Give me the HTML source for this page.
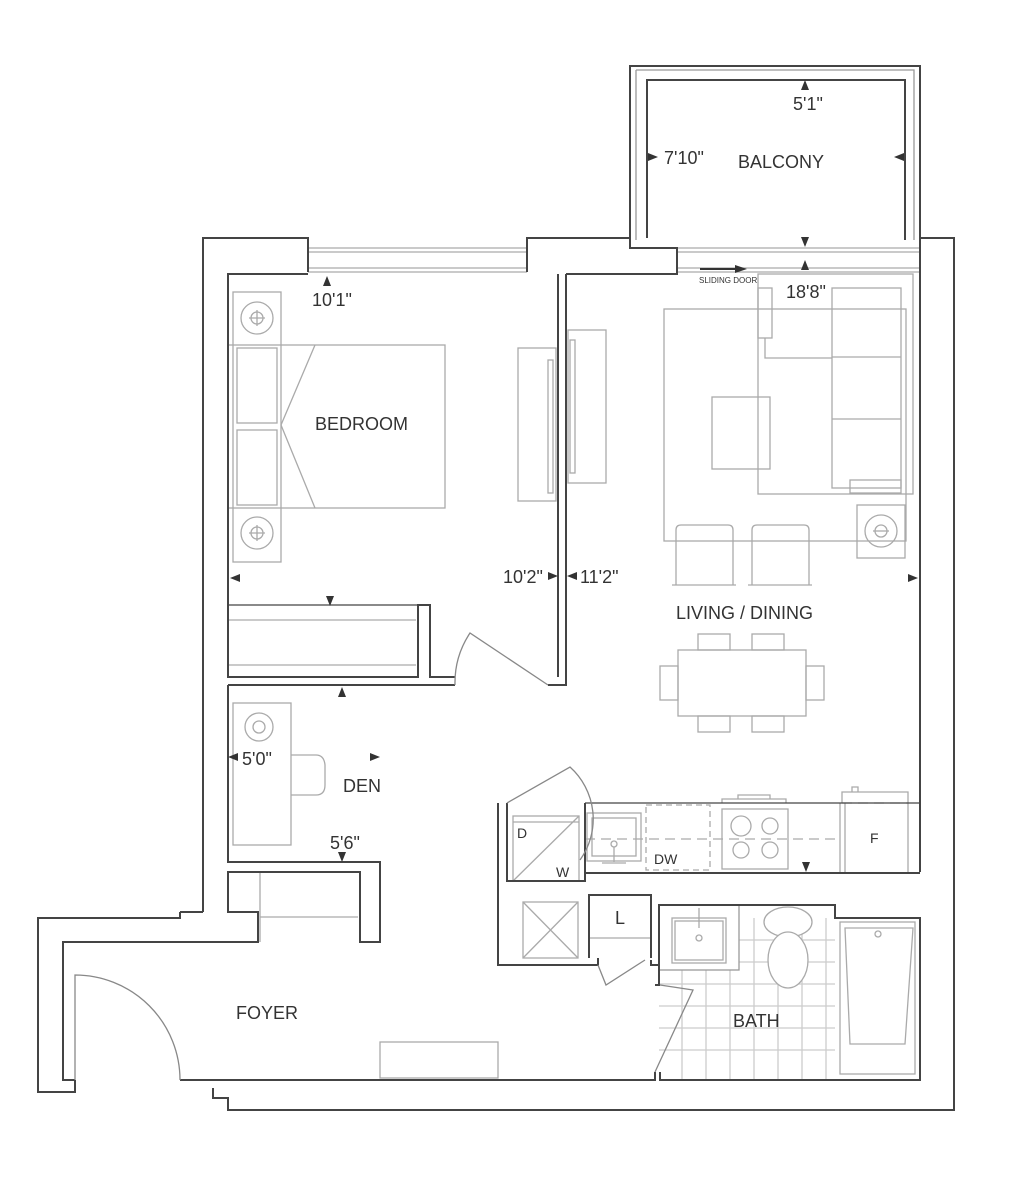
<!DOCTYPE html>
<html><head><meta charset="utf-8"><style>
html,body{margin:0;padding:0;background:#fff}
svg{display:block}
text{font-family:"Liberation Sans",sans-serif;fill:#333}
</style></head><body>
<svg width="1024" height="1179" viewBox="0 0 1024 1179" xmlns="http://www.w3.org/2000/svg">
<rect width="1024" height="1179" fill="#fff"/>
<!-- furniture light -->
<g fill="none" stroke="#aaa" stroke-width="1.3">
 <!-- bed -->
 <rect x="233" y="292" width="48" height="270"/>
 <rect x="228" y="345" width="217" height="163"/>
 <rect x="237" y="348" width="40" height="75"/>
 <rect x="237" y="430" width="40" height="75"/>
 <path d="M315,345 L281,425 L315,508"/>
 <circle cx="257" cy="318" r="16"/><circle cx="257" cy="318" r="6"/><path d="M249,318h16M257,310v16"/>
 <circle cx="257" cy="533" r="16"/><circle cx="257" cy="533" r="6"/><path d="M249,533h16M257,525v16"/>
 <!-- dresser/tv -->
 <rect x="518" y="348" width="38" height="153"/>
 <rect x="548" y="360" width="5" height="133"/>
 <rect x="568" y="330" width="38" height="153"/>
 <rect x="570" y="340" width="5" height="133"/>
 <!-- living rug -->
 <rect x="664" y="309" width="242" height="232"/>
 <rect x="712" y="397" width="58" height="72"/>
 <rect x="758" y="274" width="155" height="220"/>
 <rect x="832" y="288" width="69" height="200"/>
 <path d="M832,357h69M832,419h69"/>
 <rect x="758" y="288" width="14" height="50"/>
 <path d="M765,338v20h67"/>
 <rect x="850" y="480" width="51" height="13"/>
 <rect x="857" y="505" width="48" height="53"/>
 <circle cx="881" cy="531" r="16"/><circle cx="881" cy="531" r="6"/><path d="M873,531h16"/>
 <!-- chairs -->
 <path d="M676,585 V530 q0,-5 5,-5 H728 q5,0 5,5 V585 M672,585 h64"/>
 <path d="M752,585 V530 q0,-5 5,-5 H804 q5,0 5,5 V585 M748,585 h64"/>
 <!-- dining -->
 <rect x="678" y="650" width="128" height="66"/>
 <rect x="698" y="634" width="32" height="16"/><rect x="752" y="634" width="32" height="16"/>
 <rect x="698" y="716" width="32" height="16"/><rect x="752" y="716" width="32" height="16"/>
 <rect x="660" y="666" width="18" height="34"/><rect x="806" y="666" width="18" height="34"/>
 <!-- den desk -->
 <rect x="233" y="703" width="58" height="142"/>
 <path d="M291,755 h25 q8,0 9,10 v20 q0,10 -9,10 h-25"/>
 <circle cx="259" cy="727" r="14"/><circle cx="259" cy="727" r="6"/>
 <!-- closet lines -->
 <path d="M228,620h188M228,665h188"/>
 <path d="M260,872v70M260,917h98"/>
 <!-- foyer bench -->
 <rect x="380" y="1042" width="118" height="36"/>
 <!-- kitchen -->
 <rect x="513" y="816" width="66" height="65"/>
 <path d="M513,822h66M513,881 L579,816"/>
 <rect x="587" y="813" width="54" height="48"/><rect x="592" y="818" width="44" height="38"/>
 <circle cx="614" cy="844" r="3"/><path d="M614,847v15M602,863h24"/>
 <rect x="646" y="805" width="64" height="65" stroke-dasharray="6,4"/>
 <rect x="722" y="809" width="66" height="60"/>
 <path d="M722,803 v-4 h64 v4 M738,799 v-4 h32 v4"/>
 <circle cx="741" cy="826" r="10"/><circle cx="770" cy="826" r="8"/><circle cx="741" cy="850" r="8"/><circle cx="770" cy="850" r="8"/>
 <path d="M585,839 H840" stroke-dasharray="10,6"/>
 <path d="M840,803 V873 M845,803 V873 M908,803 V873"/>
 <path d="M842,803 v-11 h66 v11 M852,792 v-5 h6 v5"/>
 <path d="M842,803 h66" stroke-dasharray="10,6"/>
 <!-- washer box -->
 <rect x="523" y="902" width="55" height="56"/><path d="M523,902 L578,958 M578,902 L523,958"/>
 <path d="M589,938h62"/>
 <!-- bath tiles -->
 <path d="M682,918V1080 M706,918V1080 M730,918V1080 M754,918V1080 M778,918V1080 M802,918V1080 M826,918V1080 M659,940H835 M659,962H835 M659,984H835 M659,1006H835 M659,1028H835 M659,1050H835" stroke="#ccc"/>
 <rect x="659" y="905" width="80" height="65" fill="#fff" stroke="#999"/>
 <rect x="672" y="918" width="54" height="45"/><rect x="675" y="921" width="48" height="39"/>
 <path d="M699,908v20"/><circle cx="699" cy="938" r="3"/>
 <ellipse cx="788" cy="922" rx="24" ry="15" fill="#fff"/>
 <ellipse cx="788" cy="960" rx="20" ry="28" fill="#fff"/>
 <rect x="840" y="922" width="75" height="152"/>
 <path d="M845,928 L913,928 L905,1044 L850,1044 Z M845,928 L850,1044 M913,928 L905,1044"/>
 <circle cx="878" cy="934" r="3"/>
 <!-- windows -->
 <path d="M308,248H527M308,252H527M308,268H527M308,272H527"/>
 <path d="M677,248H920M677,252H920M677,268H920M677,272H920"/>
 <path d="M636,70H914V240M636,70V240" stroke="#999"/>
</g>
<!-- walls -->
<g fill="none" stroke="#444" stroke-width="2">
 <!-- outer perimeter -->
 <path d="M203,912 V238 H308 V272"/>
 <path d="M527,272 V238 H630 V248 H677 V274 H566"/>
 <path d="M920,238 H954 V1110 H228 V1098 H213 V1088"/>
 <path d="M180,912 H203 M180,912 V918 H38 V1092 H75 V1080"/>
 <!-- balcony -->
 <path d="M630,238 V66 H920 V240 M647,238 V80 H905 V240"/>
 <!-- bedroom -->
 <path d="M308,274 H228 V677 H418 V605 H430 V677 H455"/>
 <path d="M558,677 V274 M566,274 V685 H548"/>
 <path d="M228,605 H418" stroke-width="1.3"/>
 <path d="M228,685 H455"/>
 <path d="M920,238 V872"/>
 <!-- den -->
 <path d="M228,685 V862 H380 V942 H360 V872 H228 V912 H258 V942 H63 V1080 H75"/>
 <!-- foyer bottom -->
 <path d="M180,1080 H655 V1072 M660,1072 V1080 H920 V918 H835 V905 H659 V985 H655"/>
 <!-- kitchen block -->
 <path d="M498,803 V965 H598 V958 M507,803 V881 H585 V873 H920 M585,803 V873"/>
 <path d="M585,803 H920" stroke-width="1.3"/>
 <path d="M589,958 V895 H651 V958 M651,960 V965 H658"/>
</g>
<!-- doors -->
<g fill="none" stroke="#888" stroke-width="1.3">
 <path d="M75,1080 V975 A105,105 0 0 1 180,1080"/>
 <path d="M548,685 L470,633 A90,90 0 0 0 455,685"/>
 <path d="M507,803 L570,767 A70,70 0 0 1 580,860"/>
 <path d="M660,985 L693,990 L655,1072"/>
 <path d="M598,965 L606,985 L645,960"/>
</g>
<!-- dimension arrows -->
<g fill="#333">
 <path d="M801,80 l4,10 l4,-10z" transform="rotate(180 805 85)"/>
 <path d="M801,237 l4,10 l4,-10z" transform="translate(0,0)"/>
 <path d="M801,270 l4,-10 l4,10z"/>
 <path d="M323,286 l4,-10 l4,10z"/>
 <path d="M658,157 l-10,-4 v8z"/><path d="M894,157 l10,-4 v8z" transform="rotate(0)"/>
 <path d="M230,578 l10,-4 v8z"/><path d="M558,576 l-10,-4 v8z"/><path d="M567,576 l10,-4 v8z"/>
 <path d="M918,578 l-10,-4 v8z"/>
 <path d="M326,596 l4,10 l4,-10z"/><path d="M338,697 l4,-10 l4,10z"/>
 <path d="M228,757 l10,-4 v8z"/><path d="M380,757 l-10,-4 v8z"/>
 <path d="M338,852 l4,10 l4,-10z"/><path d="M802,862 l4,10 l4,-10z"/>
 <path d="M700,268 h35 v-3 l12,4 l-12,4 v-3 h-35z"/>
</g>
<!-- labels -->
<g font-size="18">
 <text x="738" y="168">BALCONY</text>
 <text x="315" y="430">BEDROOM</text>
 <text x="676" y="619">LIVING / DINING</text>
 <text x="343" y="792">DEN</text>
 <text x="236" y="1019">FOYER</text>
 <text x="733" y="1027">BATH</text>
 <text x="793" y="110">5'1"</text>
 <text x="664" y="164">7'10"</text>
 <text x="312" y="306">10'1"</text>
 <text x="786" y="298">18'8"</text>
 <text x="503" y="583">10'2"</text>
 <text x="580" y="583">11'2"</text>
 <text x="242" y="765">5'0"</text>
 <text x="330" y="849">5'6"</text>
</g>
<g font-size="14">
 <text x="517" y="838">D</text><text x="556" y="877">W</text>
 <text x="654" y="864">DW</text><text x="870" y="843">F</text>
 <text x="615" y="924" font-size="18">L</text>
</g>
<text x="699" y="283" font-size="8">SLIDING DOOR</text>
</svg>
</body></html>
